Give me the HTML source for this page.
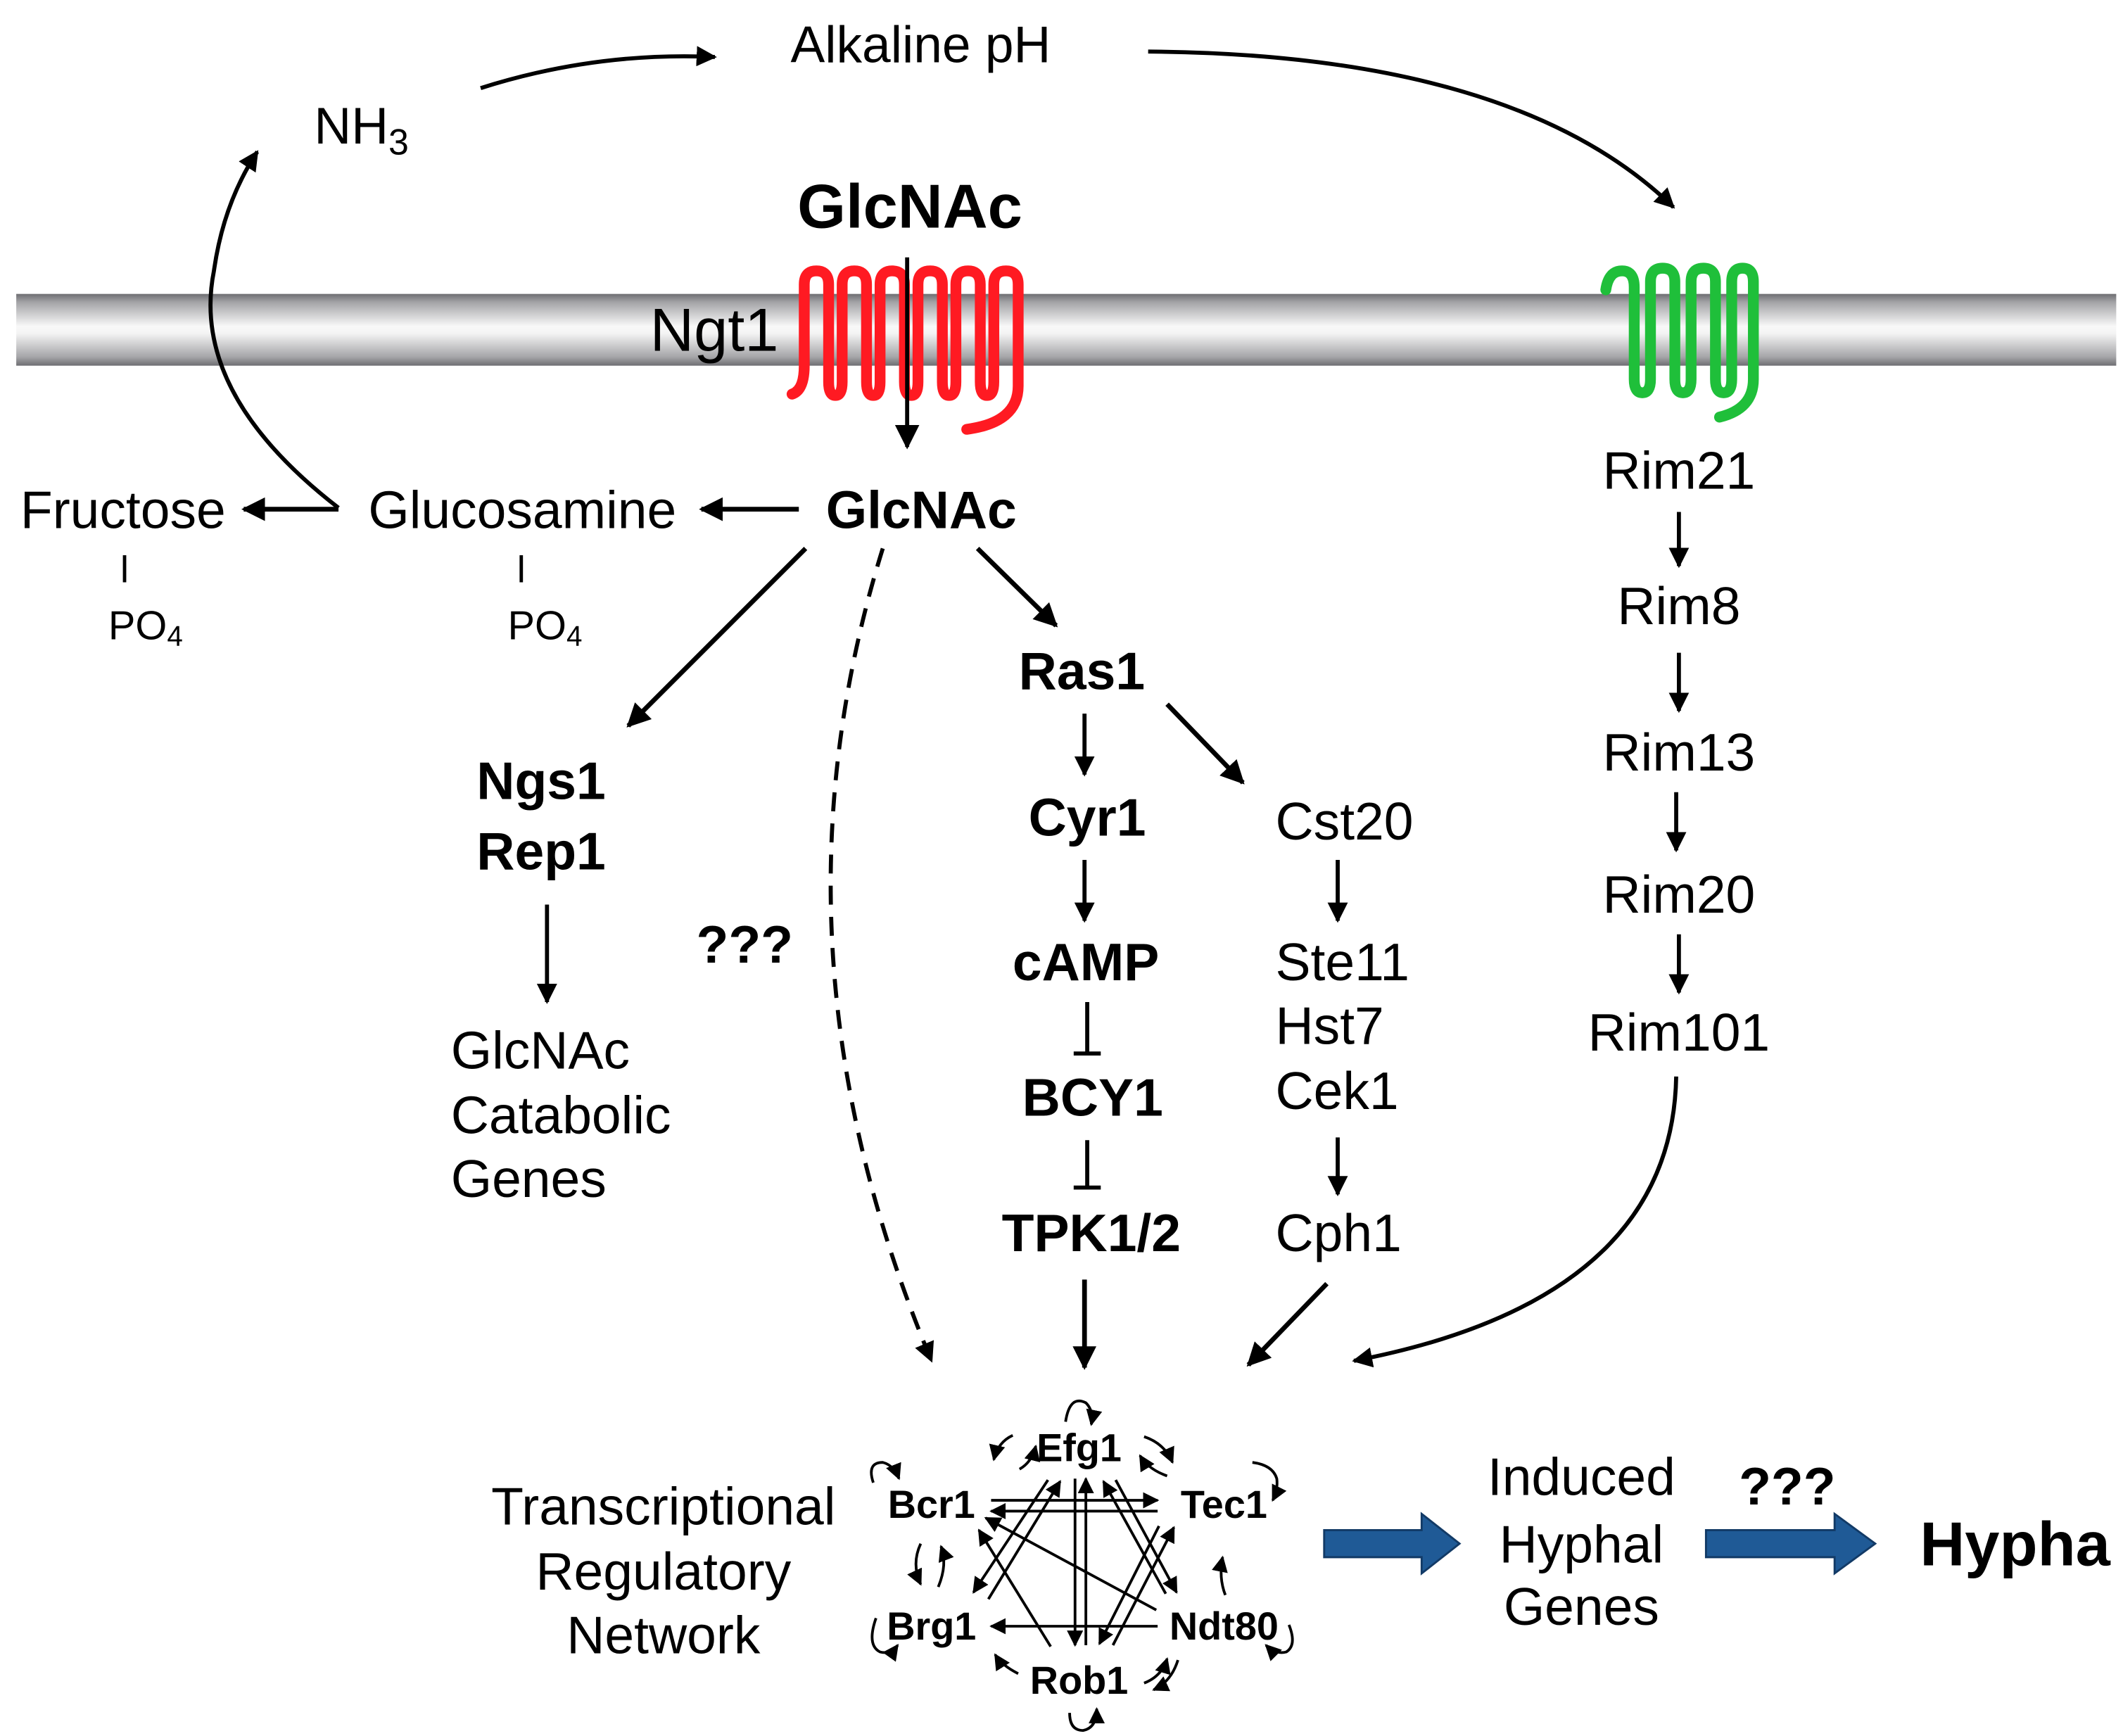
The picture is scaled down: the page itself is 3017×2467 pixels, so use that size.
<!DOCTYPE html>
<html><head><meta charset="utf-8"><style>
html,body{margin:0;padding:0;background:#fff;}
svg{display:block;}
text{font-family:"Liberation Sans",Arial,sans-serif;fill:#000;}
.b{font-weight:bold;}
</style></head><body>
<svg width="3017" height="2467" viewBox="0 0 1568 1282" xmlns="http://www.w3.org/2000/svg">
<defs>
<linearGradient id="mem" x1="0" y1="0" x2="0" y2="1">
<stop offset="0" stop-color="#6e6e72"/><stop offset="0.12" stop-color="#a5a5a8"/>
<stop offset="0.45" stop-color="#f8f8f8"/><stop offset="0.55" stop-color="#f4f4f4"/>
<stop offset="0.88" stop-color="#a5a5a8"/><stop offset="1" stop-color="#6e6e72"/>
</linearGradient>
<marker id="ah" viewBox="0 0 10 10" refX="9" refY="5" markerWidth="5" markerHeight="5" orient="auto" markerUnits="strokeWidth"><path d="M0,0 L10,5 L0,10 z" fill="#000"/></marker>
<marker id="ahs" viewBox="0 0 10 10" refX="9" refY="5" markerWidth="6" markerHeight="6" orient="auto" markerUnits="strokeWidth"><path d="M0,0 L10,5 L0,10 z" fill="#000"/></marker>
</defs>

<rect x="12" y="217" width="1551" height="53" fill="url(#mem)"/>

<path d="M355,65 Q440,38 528,42" fill="none" stroke="#000" stroke-width="3" marker-end="url(#ah)"/>
<path d="M848,38 Q1120,40 1236,153" fill="none" stroke="#000" stroke-width="3" marker-end="url(#ah)"/>
<path d="M250,375 Q140,290 158,200 Q165,150 190,112" fill="none" stroke="#000" stroke-width="3" marker-end="url(#ah)"/>

<text x="680" y="46" font-size="38" text-anchor="middle">Alkaline pH</text>
<text x="232" y="106" font-size="38">NH<tspan font-size="27" dy="8">3</tspan></text>
<text x="672" y="168" font-size="46" class="b" text-anchor="middle">GlcNAc</text>
<text x="480" y="259" font-size="45">Ngt1</text>

<path d="M585,291 Q594,288 594,270 L594,210 Q594,200 603,200 Q612,200 612,210 L612,282 Q612,292 617,292 Q622,292 622,282 L622,210 Q622,200 631,200 Q640,200 640,210 L640,282 Q640,292 645,292 Q650,292 650,282 L650,210 Q650,200 659,200 Q668,200 668,210 L668,282 Q668,292 673,292 Q678,292 678,282 L678,210 Q678,200 687,200 Q696,200 696,210 L696,282 Q696,292 701,292 Q706,292 706,282 L706,210 Q706,200 715,200 Q724,200 724,210 L724,282 Q724,292 729,292 Q734,292 734,282 L734,210 Q734,200 743,200 Q752,200 752,210 L752,285 Q752,312 714,317" fill="none" stroke="#ff1a22" stroke-width="8" stroke-linejoin="round" stroke-linecap="round"/>
<line x1="670" y1="190" x2="670" y2="330" stroke="#000" stroke-width="3" marker-end="url(#ahs)"/>

<path d="M1186,214 Q1188,200 1198,200 Q1207,200 1207,212 L1207,280 Q1207,290 1213,290 Q1219,290 1219,280 L1219,208 Q1219,198 1228,198 Q1237,198 1237,208 L1237,280 Q1237,290 1243,290 Q1249,290 1249,280 L1249,208 Q1249,198 1258,198 Q1267,198 1267,208 L1267,280 Q1267,290 1273,290 Q1279,290 1279,280 L1279,208 Q1279,198 1287,198 Q1295,198 1295,208 L1295,280 Q1295,302 1270,308" fill="none" stroke="#1fbf3a" stroke-width="8" stroke-linejoin="round" stroke-linecap="round"/>

<text x="15" y="390" font-size="39">Fructose</text>
<text x="272" y="390" font-size="39">Glucosamine</text>
<text x="610" y="390" font-size="39" class="b">GlcNAc</text>
<line x1="250" y1="376" x2="180" y2="376" stroke="#000" stroke-width="3.5" marker-end="url(#ah)"/>
<line x1="590" y1="376" x2="518" y2="376" stroke="#000" stroke-width="3.5" marker-end="url(#ah)"/>
<line x1="92" y1="410" x2="92" y2="430" stroke="#000" stroke-width="2.5"/>
<line x1="385" y1="410" x2="385" y2="430" stroke="#000" stroke-width="2.5"/>
<text x="80" y="472" font-size="30">PO<tspan font-size="21" dy="5">4</tspan></text>
<text x="375" y="472" font-size="30">PO<tspan font-size="21" dy="5">4</tspan></text>

<line x1="595" y1="405" x2="464" y2="536" stroke="#000" stroke-width="3.5" marker-end="url(#ah)"/>
<path d="M652,405 Q560,700 688,1005" fill="none" stroke="#000" stroke-width="3" stroke-dasharray="14,9" marker-end="url(#ah)"/>
<line x1="722" y1="405" x2="780" y2="462" stroke="#000" stroke-width="3.5" marker-end="url(#ah)"/>
<text x="550" y="711" font-size="39" class="b" text-anchor="middle">???</text>

<text x="352" y="590" font-size="39" class="b">Ngs1</text>
<text x="352" y="642" font-size="39" class="b">Rep1</text>
<line x1="404" y1="668" x2="404" y2="740" stroke="#000" stroke-width="3" marker-end="url(#ah)"/>
<text x="333" y="789" font-size="39">GlcNAc</text>
<text x="333" y="837" font-size="39">Catabolic</text>
<text x="333" y="884" font-size="39">Genes</text>

<text x="799" y="509" font-size="39" class="b" text-anchor="middle">Ras1</text>
<line x1="801" y1="527" x2="801" y2="572" stroke="#000" stroke-width="3" marker-end="url(#ah)"/>
<line x1="862" y1="520" x2="918" y2="578" stroke="#000" stroke-width="3.5" marker-end="url(#ah)"/>
<text x="803" y="617" font-size="39" class="b" text-anchor="middle">Cyr1</text>
<line x1="801" y1="635" x2="801" y2="680" stroke="#000" stroke-width="3" marker-end="url(#ah)"/>
<text x="802" y="724" font-size="39" class="b" text-anchor="middle">cAMP</text>
<line x1="803" y1="740" x2="803" y2="778" stroke="#000" stroke-width="3"/>
<line x1="793" y1="778" x2="813" y2="778" stroke="#000" stroke-width="3"/>
<text x="807" y="824" font-size="39" class="b" text-anchor="middle">BCY1</text>
<line x1="803" y1="842" x2="803" y2="877" stroke="#000" stroke-width="3"/>
<line x1="793" y1="877" x2="813" y2="877" stroke="#000" stroke-width="3"/>
<text x="806" y="924" font-size="39" class="b" text-anchor="middle">TPK1/2</text>
<line x1="801" y1="945" x2="801" y2="1010" stroke="#000" stroke-width="3.5" marker-end="url(#ah)"/>

<text x="942" y="620" font-size="39">Cst20</text>
<line x1="988" y1="635" x2="988" y2="680" stroke="#000" stroke-width="3" marker-end="url(#ah)"/>
<text x="942" y="724" font-size="39">Ste11</text>
<text x="942" y="771" font-size="39">Hst7</text>
<text x="942" y="819" font-size="39">Cek1</text>
<line x1="988" y1="840" x2="988" y2="882" stroke="#000" stroke-width="3" marker-end="url(#ah)"/>
<text x="942" y="924" font-size="39">Cph1</text>
<line x1="980" y1="948" x2="922" y2="1008" stroke="#000" stroke-width="3.5" marker-end="url(#ah)"/>

<text x="1240" y="361" font-size="39" text-anchor="middle">Rim21</text>
<line x1="1240" y1="378" x2="1240" y2="418" stroke="#000" stroke-width="3" marker-end="url(#ah)"/>
<text x="1240" y="461" font-size="39" text-anchor="middle">Rim8</text>
<line x1="1240" y1="482" x2="1240" y2="525" stroke="#000" stroke-width="3" marker-end="url(#ah)"/>
<text x="1240" y="569" font-size="39" text-anchor="middle">Rim13</text>
<line x1="1238" y1="585" x2="1238" y2="628" stroke="#000" stroke-width="3" marker-end="url(#ah)"/>
<text x="1240" y="674" font-size="39" text-anchor="middle">Rim20</text>
<line x1="1240" y1="690" x2="1240" y2="733" stroke="#000" stroke-width="3" marker-end="url(#ah)"/>
<text x="1240" y="776" font-size="39" text-anchor="middle">Rim101</text>
<path d="M1238,795 Q1235,960 1000,1005" fill="none" stroke="#000" stroke-width="3" marker-end="url(#ah)"/>

<text x="490" y="1126" font-size="39" text-anchor="middle">Transcriptional</text>
<text x="490" y="1174" font-size="39" text-anchor="middle">Regulatory</text>
<text x="490" y="1221" font-size="39" text-anchor="middle">Network</text>

<g font-size="29" text-anchor="middle">
<text x="797" y="1079" class="b">Efg1</text>
<text x="688" y="1121" class="b">Bcr1</text>
<text x="904" y="1121" class="b">Tec1</text>
<text x="688" y="1211" class="b">Brg1</text>
<text x="904" y="1211" class="b">Ndt80</text>
<text x="797" y="1251" class="b">Rob1</text>
</g>

<g stroke="#000" stroke-width="2" fill="none" marker-end="url(#ahs)">
<line x1="732" y1="1108" x2="855" y2="1108"/>
<line x1="855" y1="1116" x2="732" y2="1116"/>
<line x1="855" y1="1201" x2="732" y2="1201"/>
<line x1="794" y1="1092" x2="794" y2="1215"/>
<line x1="802" y1="1215" x2="802" y2="1092"/>
<line x1="774" y1="1093" x2="719" y2="1176"/>
<line x1="730" y1="1181" x2="783" y2="1094"/>
<line x1="776" y1="1216" x2="723" y2="1130"/>
<line x1="854" y1="1189" x2="728" y2="1121"/>
<line x1="861" y1="1177" x2="815" y2="1094"/>
<line x1="824" y1="1093" x2="869" y2="1176"/>
<line x1="822" y1="1215" x2="867" y2="1128"/>
<line x1="856" y1="1127" x2="812" y2="1214"/>
<path d="M787,1050 Q790,1030 802,1036 Q808,1042 806,1052"/>
<path d="M748,1060 Q737,1065 734,1078"/>
<path d="M753,1085 Q762,1080 765,1068"/>
<path d="M845,1061 Q860,1066 866,1080"/>
<path d="M862,1090 Q848,1085 842,1075"/>
<path d="M645,1095 Q640,1080 652,1080 Q660,1082 664,1092"/>
<path d="M925,1080 Q940,1082 943,1092 Q944,1100 940,1108"/>
<path d="M680,1140 Q673,1155 680,1170"/>
<path d="M693,1172 Q700,1155 695,1142"/>
<path d="M905,1178 Q900,1165 903,1150"/>
<path d="M647,1195 Q640,1215 650,1220 Q658,1222 663,1215"/>
<path d="M952,1200 Q958,1215 950,1220 Q942,1222 935,1215"/>
<path d="M752,1236 Q740,1230 735,1222"/>
<path d="M845,1243 Q858,1238 862,1225"/>
<path d="M870,1226 Q865,1242 852,1248"/>
<path d="M790,1265 Q790,1278 800,1278 Q810,1276 810,1262"/>
</g>

<path d="M978,1130 L1050,1130 L1050,1118 L1078,1140 L1050,1162 L1050,1150 L978,1150 Z" fill="#1f5a96" stroke="#123a66" stroke-width="1.5"/>
<path d="M1260,1130 L1355,1130 L1355,1118 L1385,1140 L1355,1162 L1355,1150 L1260,1150 Z" fill="#1f5a96" stroke="#123a66" stroke-width="1.5"/>
<text x="1168" y="1104" font-size="39" text-anchor="middle">Induced</text>
<text x="1168" y="1154" font-size="39" text-anchor="middle">Hyphal</text>
<text x="1168" y="1200" font-size="39" text-anchor="middle">Genes</text>
<text x="1320" y="1111" font-size="39" class="b" text-anchor="middle">???</text>
<text x="1418" y="1156" font-size="46" class="b">Hypha</text>
</svg>
</body></html>
